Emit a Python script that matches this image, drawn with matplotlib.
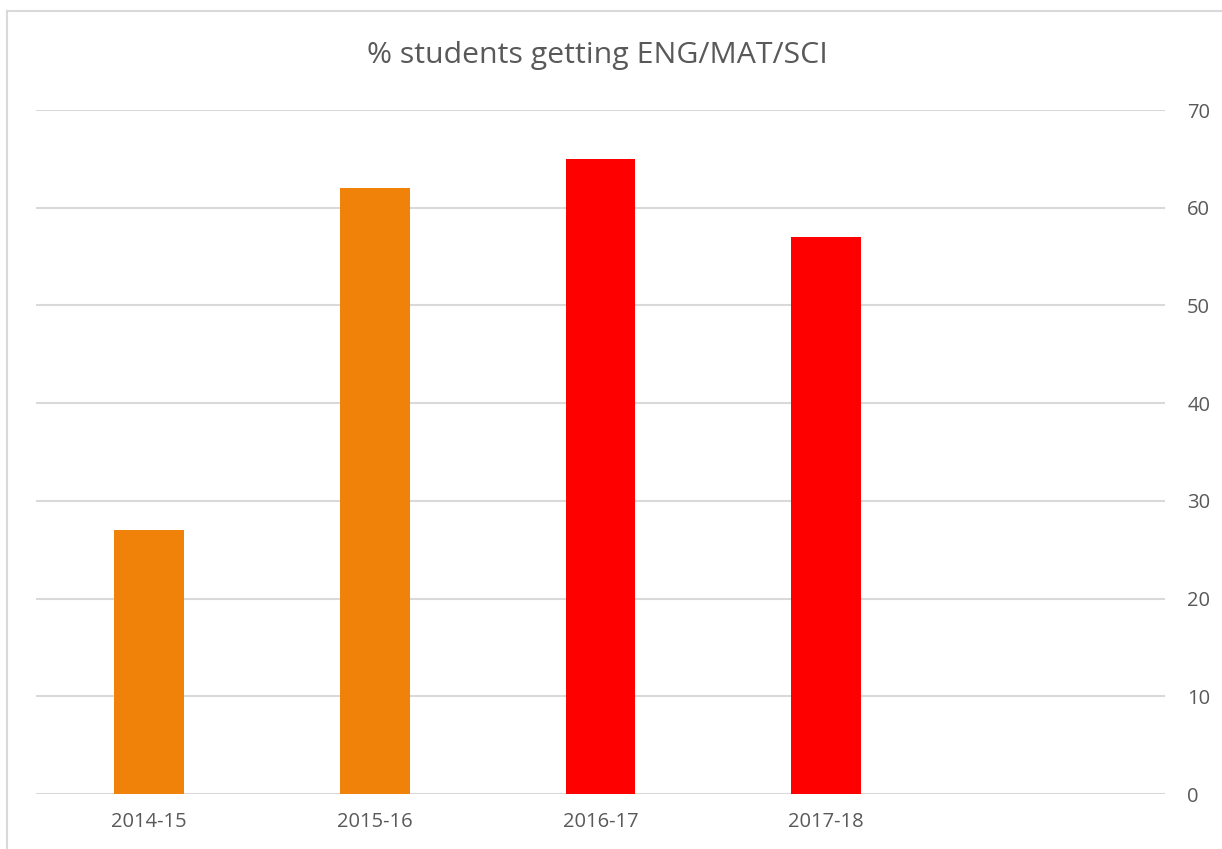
import matplotlib.pyplot as plt

years = ['2014-15', '2015-16', '2016-17', '2017-18', '']
values = [27, 62, 65, 57]
colors = ['#F0820A', '#F0820A', '#FF0000', '#FF0000']

plt.rcParams['font.family'] = ['Open Sans', 'DejaVu Sans']
text_c = '#595959'
grid_c = '#D9D9D9'

fig = plt.figure(figsize=(12.22, 8.49), dpi=100)
ax = fig.add_axes([36/1222, 1 - 794/849, (1165-36)/1222, (794-110)/849])

ax.bar(range(len(values)), values, width=0.31, color=colors, zorder=3)

ax.set_xlim(-0.5, len(years) - 0.5)
ax.set_ylim(0, 70)
ax.set_yticks(range(0, 71, 10))
ax.set_xticks(range(len(years)))
ax.set_xticklabels(years)

ax.yaxis.tick_right()
ax.grid(axis='y', color=grid_c, linewidth=1.5, zorder=0)
for s in ax.spines.values():
    s.set_visible(False)
ax.tick_params(axis='both', length=0, colors=text_c, labelsize=14.5)
ax.tick_params(axis='y', pad=16)
ax.tick_params(axis='x', pad=13)
for lab in ax.get_yticklabels():
    lab.set_horizontalalignment('left')

fig.text(597/1222, 1 - 55/849, '% students getting ENG/MAT/SCI', ha='center', va='center',
         fontsize=21.8, color=text_c)

# chart border (only left and top edges show)
y_top = 1 - 11/849
x_left = 7/1222
fig.add_artist(plt.Line2D([x_left, x_left], [0, y_top], color=grid_c, linewidth=1.5))
fig.add_artist(plt.Line2D([x_left, 1], [y_top, y_top], color=grid_c, linewidth=1.5))

fig.savefig('out.png', dpi=100, facecolor='white')
